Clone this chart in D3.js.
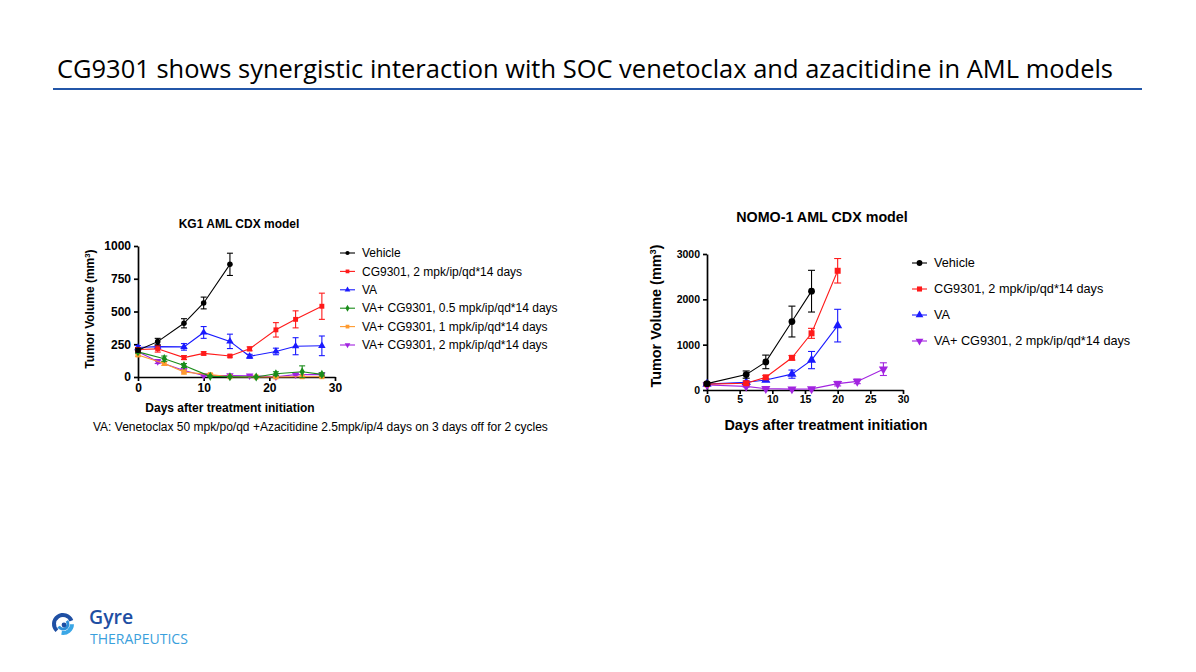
<!DOCTYPE html>
<html>
<head>
<meta charset="utf-8">
<script src="https://cdn.jsdelivr.net/npm/d3@7"></script>
<style>
  body { margin: 0; background: #fff; }
  svg { display: block; }
  .axis path, .axis line { stroke: #000; stroke-width: 1.7; }
  .axis text { font-family: "Liberation Sans", Arial, sans-serif; font-weight: bold; fill: #000; }
</style>
</head>
<body>
<svg id="slide" width="1196" height="672"></svg>
<script>
// KG1 AML CDX model
const kgVehicleDays = [0, 3, 7, 10, 14];
const kgVehicleMean = [205, 270, 410, 565, 860];
const kgVehicleSem = [15, 25, 35, 45, 85];
const kgCgDays = [0, 3, 7, 10, 14, 17, 21, 24, 28];
const kgCgMean = [210, 215, 148, 180, 160, 215, 360, 440, 540];
const kgCgSem = [15, 25, 15, 12, 8, 15, 55, 65, 100];
const kgVaDays = [0, 3, 7, 10, 14, 17, 21, 24, 28];
const kgVaMean = [225, 232, 230, 340, 272, 158, 195, 235, 238];
const kgVaSem = [15, 12, 25, 45, 55, 15, 25, 65, 75];
const kgVa05Days = [0, 4, 7, 11, 14, 18, 21, 25, 28];
const kgVa05Mean = [192, 140, 88, 5, 2, 0, 25, 40, 20];
const kgVa05Sem = [10, 20, 15, 3, 2, 2, 15, 45, 12];
const kgVa1Days = [0, 4, 7, 11, 14, 18, 21, 25, 28];
const kgVa1Mean = [168, 103, 38, 18, 2, 0, 0, 2, 2];
const kgVa1Sem = [10, 15, 15, 8, 2, 2, 2, 2, 2];
const kgVa2Days = [0, 3, 7, 10, 14, 17, 21, 24, 28];
const kgVa2Mean = [192, 118, 50, 12, 12, 10, 2, 18, 18];
const kgVa2Sem = [12, 15, 12, 5, 5, 4, 2, 10, 10];

// NOMO-1 AML CDX model
const nmVehicleDays = [0, 6, 9, 13, 16];
const nmVehicleMean = [140, 340, 620, 1510, 2180];
const nmVehicleSem = [30, 80, 150, 340, 460];
const nmCgDays = [0, 6, 9, 13, 16, 20];
const nmCgMean = [130, 150, 280, 710, 1250, 2630];
const nmCgSem = [20, 30, 40, 50, 110, 270];
const nmVaDays = [0, 6, 9, 13, 16, 20];
const nmVaMean = [130, 170, 220, 350, 660, 1420];
const nmVaSem = [20, 30, 30, 90, 190, 360];
const nmVa2Days = [0, 6, 9, 13, 16, 20, 23, 27];
const nmVa2Mean = [110, 80, 30, 20, 25, 140, 190, 460];
const nmVa2Sem = [15, 15, 10, 8, 10, 50, 50, 140];

const kgXTicks = [0, 10, 20, 30];
const kgYTicks = [0, 250, 500, 750, 1000];
const nmXTicks = [0, 5, 10, 15, 20, 25, 30];
const nmYTicks = [0, 1000, 2000, 3000];

const LABEL_VEHICLE = 'Vehicle';
const LABEL_CG = 'CG9301, 2 mpk/ip/qd*14 days';
const LABEL_VA = 'VA';
const LABEL_VA05 = 'VA+ CG9301, 0.5 mpk/ip/qd*14 days';
const LABEL_VA1 = 'VA+ CG9301, 1 mpk/ip/qd*14 days';
const LABEL_VA2 = 'VA+ CG9301, 2 mpk/ip/qd*14 days';

const TITLE = 'CG9301 shows synergistic interaction with SOC venetoclax and azacitidine in AML models';
const TITLE_WIDTH = 1056;

const COLORS = {
  black: '#000000',
  red: '#ff1a1a',
  blue: '#1a1aff',
  green: '#1a8c1a',
  orange: '#ff9a2e',
  purple: '#a224e0'
};

function makeSeries(name, color, symbol, days, mean, sem) {
  return {
    name, color, symbol,
    points: days.map((d, i) => ({ day: d, mean: mean[i], sem: sem[i] }))
  };
}

const kgSeries = [
  makeSeries(LABEL_VEHICLE, COLORS.black, d3.symbolCircle, kgVehicleDays, kgVehicleMean, kgVehicleSem),
  makeSeries(LABEL_CG, COLORS.red, d3.symbolSquare, kgCgDays, kgCgMean, kgCgSem),
  makeSeries(LABEL_VA, COLORS.blue, d3.symbolTriangle, kgVaDays, kgVaMean, kgVaSem),
  makeSeries(LABEL_VA05, COLORS.green, d3.symbolDiamond, kgVa05Days, kgVa05Mean, kgVa05Sem),
  makeSeries(LABEL_VA1, COLORS.orange, d3.symbolSquare, kgVa1Days, kgVa1Mean, kgVa1Sem),
  makeSeries(LABEL_VA2, COLORS.purple, 'down', kgVa2Days, kgVa2Mean, kgVa2Sem)
];

const nmSeries = [
  makeSeries(LABEL_VEHICLE, COLORS.black, d3.symbolCircle, nmVehicleDays, nmVehicleMean, nmVehicleSem),
  makeSeries(LABEL_CG, COLORS.red, d3.symbolSquare, nmCgDays, nmCgMean, nmCgSem),
  makeSeries(LABEL_VA, COLORS.blue, d3.symbolTriangle, nmVaDays, nmVaMean, nmVaSem),
  makeSeries(LABEL_VA2, COLORS.purple, 'down', nmVa2Days, nmVa2Mean, nmVa2Sem)
];

const svg = d3.select('#slide');

// slide title, sized to span the same width as the original
const title = svg.append('text')
  .attr('x', 57).attr('y', 78)
  .style('font-family', '"Open Sans", "Noto Sans", sans-serif')
  .style('font-size', '22px')
  .attr('fill', '#000')
  .text(TITLE);
const measured = title.node().getComputedTextLength();
if (measured > 0) {
  title.style('font-size', `${(22 * TITLE_WIDTH / measured).toFixed(2)}px`);
}

svg.append('line')
  .attr('x1', 53).attr('x2', 1142).attr('y1', 89).attr('y2', 89)
  .attr('stroke', '#2356a8').attr('stroke-width', 2);

function symbolPath(symbol, size) {
  if (symbol === 'down') {
    return d3.symbol(d3.symbolTriangle, size)().replace(/(-?\d*\.?\d+),(-?\d*\.?\d+)/g,
      (m, x, y) => `${x},${-parseFloat(y)}`);
  }
  return d3.symbol(symbol, size)();
}

function drawPanel(opts) {
  const g = svg.append('g');
  const x = d3.scaleLinear().domain(opts.xDomain).range(opts.xRange);
  const y = d3.scaleLinear().domain(opts.yDomain).range(opts.yRange);

  const xAxis = g.append('g')
    .attr('class', 'axis')
    .attr('transform', `translate(0,${opts.yRange[0]})`)
    .call(d3.axisBottom(x).tickValues(opts.xTicks).tickFormat(d3.format('d'))
      .tickSize(opts.tick).tickPadding(2).tickSizeOuter(0));
  xAxis.selectAll('text').style('font-size', opts.tickFont);

  const yAxis = g.append('g')
    .attr('class', 'axis')
    .attr('transform', `translate(${opts.xRange[0]},0)`)
    .call(d3.axisLeft(y).tickValues(opts.yTicks).tickFormat(d3.format('d'))
      .tickSize(opts.tick).tickPadding(3).tickSizeOuter(0));
  yAxis.selectAll('text').style('font-size', opts.tickFont);

  // panel title
  g.append('text')
    .attr('x', opts.titleX).attr('y', opts.titleY)
    .attr('text-anchor', 'middle')
    .style('font-family', '"Liberation Sans", Arial, sans-serif')
    .style('font-weight', 'bold')
    .style('font-size', opts.titleFont)
    .text(opts.title);

  // axis labels
  g.append('text')
    .attr('x', opts.xLabelX).attr('y', opts.xLabelY)
    .attr('text-anchor', 'middle')
    .style('font-family', '"Liberation Sans", Arial, sans-serif')
    .style('font-weight', 'bold')
    .style('font-size', opts.labelFont)
    .text('Days after treatment initiation');

  const yl = g.append('text')
    .attr('transform', `translate(${opts.yLabelX},${opts.yLabelY}) rotate(-90)`)
    .attr('text-anchor', 'middle')
    .style('font-family', '"Liberation Sans", Arial, sans-serif')
    .style('font-weight', 'bold')
    .style('font-size', opts.labelFont);
  yl.append('tspan').text('Tumor Volume (mm');
  yl.append('tspan').attr('baseline-shift', 'super').style('font-size', '0.65em').text('3');
  yl.append('tspan').text(')');

  const line = d3.line().x((d) => x(d.day)).y((d) => y(d.mean));

  // draw later series first so vehicle ends on top
  const order = opts.series.slice().reverse();
  order.forEach((s) => {
    const sg = g.append('g').attr('class', 'series');
    sg.append('path')
      .datum(s.points)
      .attr('d', line)
      .attr('fill', 'none')
      .attr('stroke', s.color)
      .attr('stroke-width', opts.lineWidth);

    const eb = sg.selectAll('g.err')
      .data(s.points.filter((p) => p.sem > 0))
      .join('g')
      .attr('class', 'err')
      .attr('stroke', s.color)
      .attr('stroke-width', opts.lineWidth);
    eb.append('line')
      .attr('x1', (d) => x(d.day)).attr('x2', (d) => x(d.day))
      .attr('y1', (d) => y(d.mean - d.sem)).attr('y2', (d) => y(d.mean + d.sem));
    eb.append('line')
      .attr('x1', (d) => x(d.day) - opts.cap).attr('x2', (d) => x(d.day) + opts.cap)
      .attr('y1', (d) => y(d.mean + d.sem)).attr('y2', (d) => y(d.mean + d.sem));
    eb.append('line')
      .attr('x1', (d) => x(d.day) - opts.cap).attr('x2', (d) => x(d.day) + opts.cap)
      .attr('y1', (d) => y(d.mean - d.sem)).attr('y2', (d) => y(d.mean - d.sem));

    sg.selectAll('path.mark')
      .data(s.points)
      .join('path')
      .attr('class', 'mark')
      .attr('transform', (d) => `translate(${x(d.day)},${y(d.mean)})`)
      .attr('d', symbolPath(s.symbol, opts.markSize))
      .attr('fill', s.color);
  });

  // legend
  const lg = g.append('g').attr('transform', `translate(${opts.legendX},${opts.legendY})`);
  const rows = lg.selectAll('g')
    .data(opts.series)
    .join('g')
    .attr('transform', (d, i) => `translate(0,${i * opts.legendStep})`);
  rows.append('line')
    .attr('x1', 0).attr('x2', opts.legendLine)
    .attr('stroke', (d) => d.color).attr('stroke-width', opts.lineWidth);
  rows.append('path')
    .attr('transform', `translate(${opts.legendLine / 2},0)`)
    .attr('d', (d) => symbolPath(d.symbol, opts.legendMark))
    .attr('fill', (d) => d.color);
  rows.append('text')
    .attr('x', opts.legendLine + 7).attr('dy', '0.35em')
    .style('font-family', '"Liberation Sans", Arial, sans-serif')
    .style('font-size', opts.legendFont)
    .text((d) => d.name);

  return g;
}

drawPanel({
  series: kgSeries,
  xDomain: [0, 30], yDomain: [0, 1000],
  xRange: [138, 335], yRange: [377, 246],
  xTicks: kgXTicks, yTicks: kgYTicks,
  tick: 4, tickFont: '12px',
  title: 'KG1 AML CDX model', titleX: 239, titleY: 228, titleFont: '12px',
  xLabelX: 230, xLabelY: 412, yLabelX: 94, yLabelY: 309, labelFont: '12px',
  lineWidth: 1.1, cap: 3, markSize: 24,
  legendX: 340, legendY: 253, legendStep: 18.4, legendLine: 15, legendMark: 14, legendFont: '12px'
});

drawPanel({
  series: nmSeries,
  xDomain: [0, 30], yDomain: [0, 3000],
  xRange: [707, 903], yRange: [390, 254],
  xTicks: nmXTicks, yTicks: nmYTicks,
  tick: 4, tickFont: '10.5px',
  title: 'NOMO-1 AML CDX model', titleX: 822, titleY: 222, titleFont: '14.3px',
  xLabelX: 826, xLabelY: 430, yLabelX: 661, yLabelY: 316, labelFont: '14.4px',
  lineWidth: 1.1, cap: 3.5, markSize: 36,
  legendX: 912, legendY: 263, legendStep: 26, legendLine: 15, legendMark: 26, legendFont: '12.7px'
});

// footnote
svg.append('text')
  .attr('x', 93).attr('y', 431)
  .style('font-family', '"Liberation Sans", Arial, sans-serif')
  .style('font-size', '12px')
  .text('VA: Venetoclax 50 mpk/po/qd +Azacitidine 2.5mpk/ip/4 days on 3 days off for 2 cycles');

// logo
const logo = svg.append('g').attr('transform', 'translate(63,624)');
const arc = d3.arc();
[
  { r0: 7, r1: 11, a0: -2.4, a1: 1.2, c: '#1f4fa3' },
  { r0: 3.5, r1: 6.5, a0: 0.9, a1: 4.2, c: '#2f8fd8' },
  { r0: 7, r1: 11, a0: 1.6, a1: 3.3, c: '#3ba7e6' }
].forEach((a) => {
  logo.append('path')
    .attr('d', arc({ innerRadius: a.r0, outerRadius: a.r1, startAngle: a.a0, endAngle: a.a1 }))
    .attr('fill', a.c);
});
logo.append('circle').attr('r', 2.4).attr('cx', 1).attr('cy', 1).attr('fill', '#1f4fa3');

svg.append('text')
  .attr('x', 89).attr('y', 624)
  .style('font-family', '"Open Sans", "Noto Sans", sans-serif')
  .style('font-weight', '600')
  .style('font-size', '19.5px')
  .attr('fill', '#1f4fa3')
  .text('Gyre');
svg.append('text')
  .attr('x', 90).attr('y', 644)
  .style('font-family', '"Open Sans", "Noto Sans", sans-serif')
  .style('font-size', '14px')
  .attr('fill', '#3aa0dc')
  .text('THERAPEUTICS');
</script>
</body>
</html>
